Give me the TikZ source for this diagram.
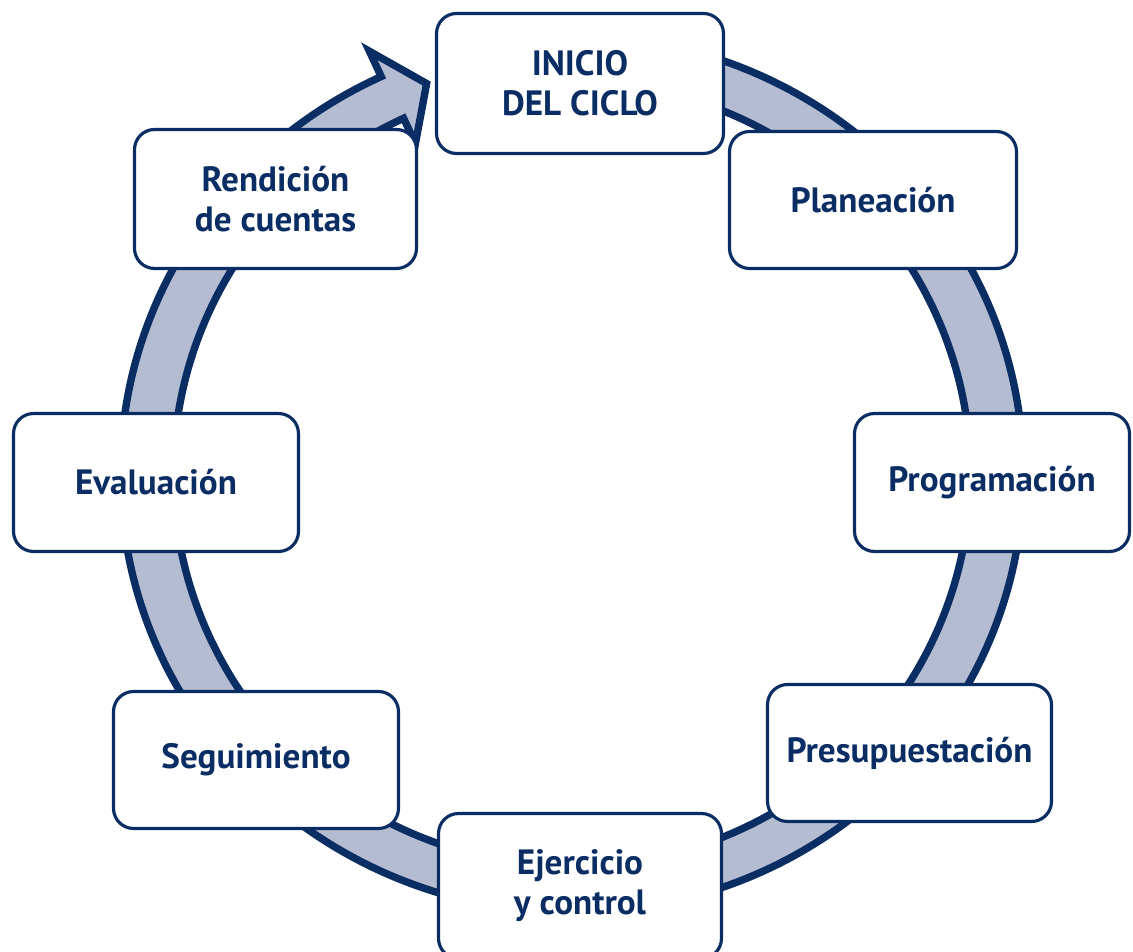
\documentclass[tikz,border=0pt]{standalone}
\usepackage{fontspec}
\setmainfont{PT Sans}
\definecolor{navy}{RGB}{10,45,100}
\definecolor{ringfill}{RGB}{180,188,210}
\begin{document}
\begin{tikzpicture}[x=0.02cm,y=0.02cm,
  stage/.style={draw=navy, line width=1.8pt, fill=white, rounded corners=0.4cm,
    inner sep=0pt, outer sep=0pt, align=center, text=navy,
    font=\bfseries\fontsize{20}{22.7}\selectfont},
  ring/.style={draw=navy, fill=ringfill, line width=4.2pt, line join=miter}]
\useasboundingbox (0,0) rectangle (1133,951);
% ring with arrowhead
\coordinate (rs) at ({572+451.5*cos(95)},{477+438.5*sin(95)});
\coordinate (bo) at ({572+479.5*cos(115)},{477+466.5*sin(115)});
\coordinate (tip) at ({572+425*cos(110)},{477+415.5*sin(110)});
\coordinate (bi) at ({572+370.5*cos(115)},{477+364.5*sin(115)});
\coordinate (ni) at ({572+398.5*cos(115)},{477+392.5*sin(115)});
\draw[ring] (rs) arc[start angle=95, end angle=-245, x radius=9.03cm, y radius=8.77cm]
  -- (bo) -- (tip) -- (bi) -- (ni)
  arc[start angle=-245, end angle=95, x radius=7.97cm, y radius=7.85cm] -- cycle;
% stages
\node[stage, minimum width=5.74cm, minimum height=2.8cm] (inicio) at (580,867.5) {INICIO\\DEL CICLO};
\node[stage, minimum width=5.74cm, minimum height=2.74cm] (plan) at (873,751) {Planeación};
\node[stage, minimum width=5.5cm, minimum height=2.76cm] (prog) at (992,468.5) {Programación};
\node[stage, minimum width=5.68cm, minimum height=2.74cm] (pres) at (909.5,198) {Presupuestación};
\node[stage, minimum width=5.66cm, minimum height=2.9cm] (ejer) at (580,65) {Ejercicio\\y control};
\node[stage, minimum width=5.7cm, minimum height=2.74cm] (segu) at (256,191) {Seguimiento};
\node[stage, minimum width=5.7cm, minimum height=2.76cm] (eval) at (156,468.5) {Evaluación};
\node[stage, minimum width=5.64cm, minimum height=2.78cm] (rend) at (275.5,752) {Rendición\\de cuentas};
\end{tikzpicture}
\end{document}
